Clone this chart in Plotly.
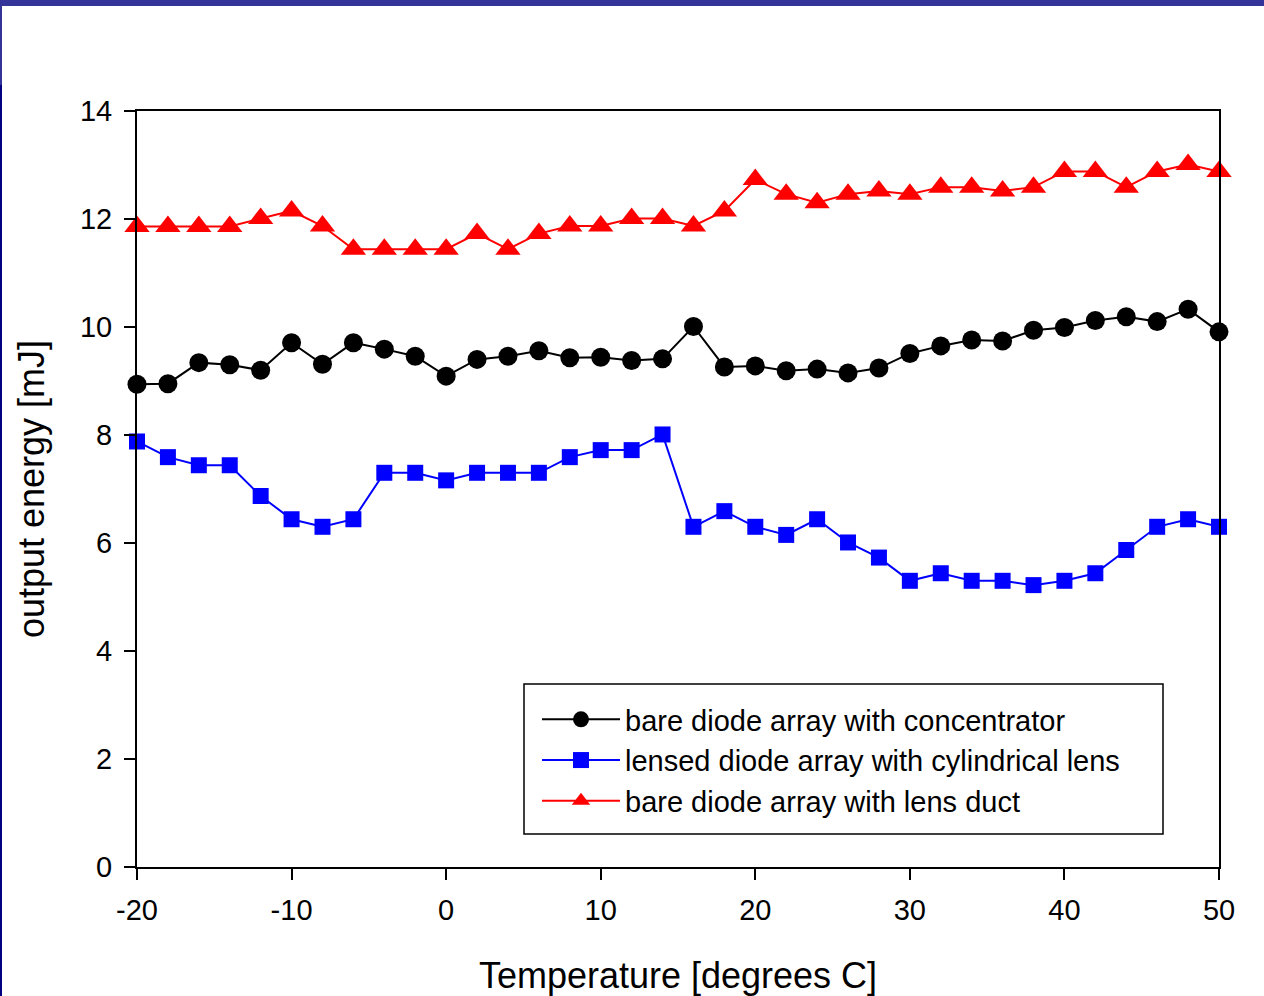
import plotly.graph_objects as go

temperature = list(range(-20, 51, 2))

concentrator = [8.94, 8.95, 9.34, 9.30, 9.20, 9.71, 9.31, 9.71, 9.59, 9.46,
                9.09, 9.40, 9.46, 9.56, 9.43, 9.44, 9.38, 9.41, 10.01, 9.26,
                9.28, 9.19, 9.22, 9.15, 9.24, 9.51, 9.65, 9.76, 9.74, 9.94,
                9.99, 10.12, 10.19, 10.10, 10.33, 9.91]

cyl_lens = [7.88, 7.59, 7.44, 7.44, 6.87, 6.44, 6.30, 6.44, 7.30, 7.30,
            7.16, 7.30, 7.30, 7.30, 7.59, 7.72, 7.72, 8.01, 6.30, 6.59,
            6.30, 6.15, 6.44, 6.01, 5.73, 5.30, 5.44, 5.30, 5.30, 5.22,
            5.30, 5.44, 5.87, 6.30, 6.44, 6.30]

lens_duct = [11.86, 11.86, 11.86, 11.86, 12.01, 12.15, 11.87, 11.44, 11.44, 11.44,
             11.44, 11.73, 11.44, 11.73, 11.87, 11.87, 12.01, 12.01, 11.87, 12.15,
             12.73, 12.46, 12.30, 12.46, 12.52, 12.46, 12.59, 12.59, 12.52, 12.59,
             12.88, 12.88, 12.59, 12.88, 13.01, 12.88]

series_names = ["bare diode array with concentrator",
                "lensed diode array with cylindrical lens",
                "bare diode array with lens duct"]

x_ticks = [-20, -10, 0, 10, 20, 30, 40, 50]
x_tick_labels = ["-20", "-10", "0", "10", "20", "30", "40", "50"]
y_ticks = [0, 2, 4, 6, 8, 10, 12, 14]
y_tick_labels = ["0", "2", "4", "6", "8", "10", "12", "14"]

W, H = 1264, 996
L, R, T, B = 137, 45, 111, 129
PW, PH = W - L - R, H - T - B


def xp(px):
    return (px - L) / PW


def yp(py):
    return (H - B - py) / PH


FONT = "Arial, Liberation Sans, sans-serif"

fig = go.Figure()
fig.add_trace(go.Scatter(x=temperature, y=concentrator, name=series_names[0],
                         mode="lines+markers", cliponaxis=False,
                         line=dict(color="black", width=2),
                         marker=dict(symbol="circle", size=19, color="black")))
fig.add_trace(go.Scatter(x=temperature, y=cyl_lens, name=series_names[1],
                         mode="lines+markers", cliponaxis=False,
                         line=dict(color="#0000ff", width=2),
                         marker=dict(symbol="square", size=16, color="#0000ff")))
fig.add_trace(go.Scatter(x=temperature, y=lens_duct, name=series_names[2],
                         mode="lines+markers", cliponaxis=False,
                         line=dict(color="#ff0000", width=2),
                         marker=dict(symbol="triangle-up", size=22, color="#ff0000")))

axis_common = dict(showline=True, mirror=True, linecolor="black", linewidth=2,
                   ticks="outside", ticklen=11, tickwidth=2, tickcolor="black",
                   showgrid=False, zeroline=False,
                   tickfont=dict(family=FONT, size=29, color="black"))

fig.update_xaxes(range=[-20, 50], tickvals=x_ticks, ticktext=x_tick_labels,
                 automargin=False, ticklabelstandoff=5,
                 title=dict(text="Temperature [degrees C]", standoff=38,
                            font=dict(family=FONT, size=36, color="black")),
                 **axis_common)
fig.update_yaxes(range=[0, 14], tickvals=y_ticks, ticktext=y_tick_labels,
                 automargin=False, ticklabelstandoff=6,
                 title=dict(text="output energy [mJ]", standoff=24,
                            font=dict(family=FONT, size=36, color="black")),
                 **axis_common)

shapes = [
    # legend box
    dict(type="rect", xref="paper", yref="paper",
         x0=xp(524), x1=xp(1163), y0=yp(834), y1=yp(684),
         line=dict(color="black", width=1.5), fillcolor="rgba(0,0,0,0)"),
    # slide decoration
    dict(type="rect", xref="paper", yref="paper",
         x0=xp(0), x1=xp(W), y0=yp(6), y1=yp(0),
         line=dict(width=0), fillcolor="#333399"),
    dict(type="rect", xref="paper", yref="paper",
         x0=xp(0), x1=xp(2), y0=yp(85), y1=yp(6),
         line=dict(width=0), fillcolor="#333399"),
    dict(type="rect", xref="paper", yref="paper",
         x0=xp(0), x1=xp(2), y0=yp(H), y1=yp(85),
         line=dict(width=0), fillcolor="#000080"),
]

fig.update_layout(
    width=W, height=H,
    margin=dict(l=L, r=R, t=T, b=B),
    paper_bgcolor="white", plot_bgcolor="white",
    font=dict(family=FONT, color="black"),
    showlegend=True,
    legend=dict(x=xp(537), y=yp(694), xanchor="left", yanchor="top",
                bgcolor="rgba(0,0,0,0)", borderwidth=0,
                font=dict(family=FONT, size=29, color="black"),
                itemwidth=78, tracegroupgap=0),
    shapes=shapes,
)

fig.write_html("out.html", config={"displayModeBar": False},
               post_script="document.body.style.margin='0px';")
